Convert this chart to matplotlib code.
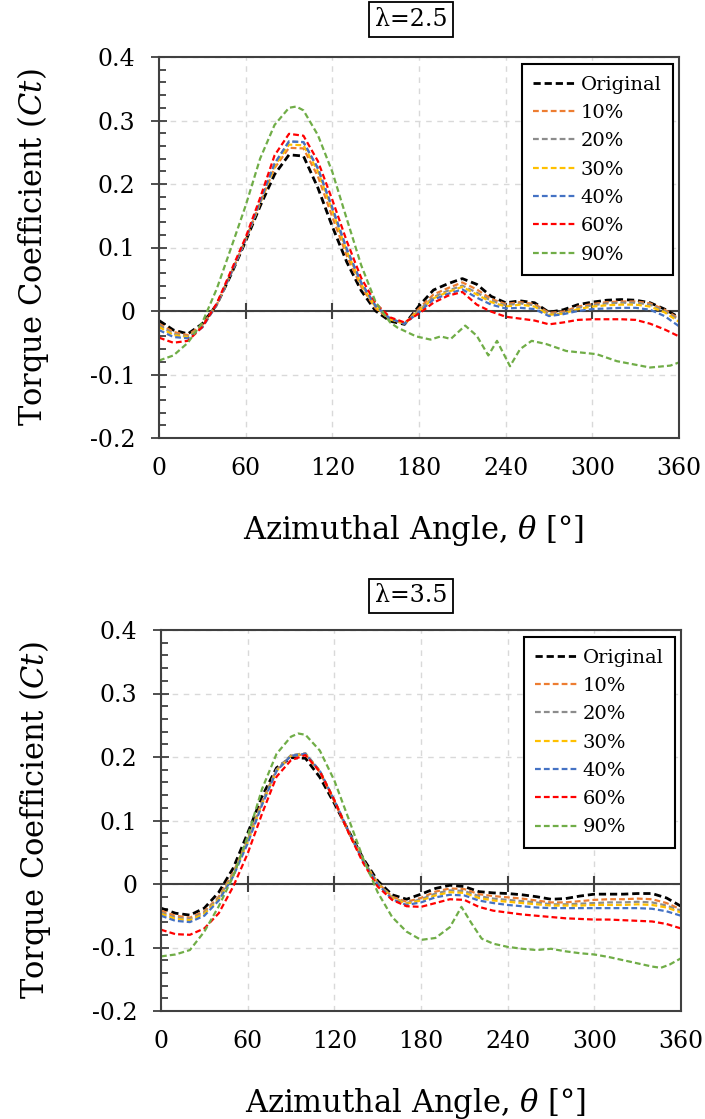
import numpy as np
import matplotlib
matplotlib.use("Agg")
import matplotlib.pyplot as plt
from matplotlib.ticker import MultipleLocator

plt.rcParams['font.family'] = ['DejaVu Serif']
plt.rcParams['mathtext.fontset'] = 'dejavuserif'

# sampled azimuthal angles (deg)
angles = list(range(0, 361, 10))

series_names = ['Original', '10%', '20%', '30%', '40%', '60%', '90%']
series_colors = ['#000000', '#ED7D31', '#8C8C8C', '#FFC000', '#4472C4', '#FF0000', '#70AD47']

x_ticks = [0, 60, 120, 180, 240, 300, 360]
y_ticks = [-0.2, -0.1, 0.0, 0.1, 0.2, 0.3, 0.4]
y_tick_labels = ['-0.2', '-0.1', '0', '0.1', '0.2', '0.3', '0.4']

# ---- lambda = 2.5 ----
orig_25 = [-0.015, -0.03, -0.036, -0.02, 0.01, 0.058, 0.11, 0.165, 0.215, 0.246, 0.244, 0.194,
           0.133, 0.077, 0.032, 0.0, -0.016, -0.021, 0.008, 0.033, 0.043, 0.051, 0.042, 0.023,
           0.013, 0.016, 0.013, -0.002, 0.002, 0.01, 0.014, 0.017, 0.018, 0.017, 0.013, 0.003, -0.01]
p10_25 = [-0.02, -0.033, -0.038, -0.022, 0.01, 0.06, 0.112, 0.17, 0.225, 0.257, 0.256, 0.212,
          0.148, 0.087, 0.038, 0.004, -0.013, -0.02, 0.004, 0.026, 0.036, 0.045, 0.034, 0.019,
          0.011, 0.014, 0.011, -0.003, -0.001, 0.007, 0.011, 0.014, 0.015, 0.015, 0.012, 0.002, -0.012]
p20_25 = [-0.022, -0.036, -0.04, -0.024, 0.01, 0.06, 0.113, 0.172, 0.232, 0.267, 0.266, 0.224,
          0.16, 0.095, 0.043, 0.007, -0.012, -0.02, 0.001, 0.022, 0.032, 0.04, 0.029, 0.016,
          0.009, 0.012, 0.009, -0.005, -0.003, 0.005, 0.009, 0.012, 0.013, 0.013, 0.01, 0.0, -0.014]
p30_25 = [-0.025, -0.038, -0.041, -0.025, 0.01, 0.06, 0.113, 0.17, 0.228, 0.262, 0.261, 0.22,
          0.158, 0.094, 0.042, 0.006, -0.013, -0.02, 0.0, 0.02, 0.03, 0.038, 0.026, 0.014,
          0.007, 0.01, 0.007, -0.006, -0.004, 0.003, 0.007, 0.009, 0.01, 0.01, 0.007, -0.002, -0.017]
p40_25 = [-0.03, -0.041, -0.043, -0.026, 0.01, 0.06, 0.113, 0.172, 0.232, 0.267, 0.266, 0.225,
          0.163, 0.098, 0.045, 0.008, -0.012, -0.02, -0.002, 0.018, 0.027, 0.034, 0.021, 0.01,
          0.004, 0.005, 0.003, -0.008, -0.005, 0.0, 0.003, 0.004, 0.005, 0.005, 0.002, -0.008, -0.024]
p60_25 = [-0.042, -0.05, -0.047, -0.025, 0.012, 0.064, 0.116, 0.178, 0.245, 0.279, 0.276, 0.236,
          0.175, 0.11, 0.052, 0.012, -0.01, -0.018, -0.004, 0.013, 0.024, 0.03, 0.01, -0.001,
          -0.009, -0.012, -0.015, -0.021, -0.018, -0.014, -0.013, -0.013, -0.013, -0.014, -0.02, -0.029, -0.04]
p90_25_ang = [0, 10, 20, 30, 40, 50, 60, 70, 80, 90, 95, 100, 110, 120, 130, 140, 150, 160, 165,
              178, 188, 195, 202, 212, 220, 228, 234, 243, 250, 258, 268, 282, 303, 317, 340, 354, 360]
p90_25 = [-0.078, -0.07, -0.05, -0.018, 0.035, 0.1, 0.166, 0.24, 0.293, 0.32, 0.322, 0.316,
          0.277, 0.219, 0.145, 0.072, 0.014, -0.018, -0.026, -0.04, -0.045, -0.04, -0.044, -0.023,
          -0.039, -0.07, -0.047, -0.087, -0.06, -0.047, -0.052, -0.063, -0.068, -0.079, -0.089, -0.086, -0.081]

# ---- lambda = 3.5 ----
orig_35 = [-0.038, -0.046, -0.049, -0.038, -0.013, 0.025, 0.08, 0.138, 0.183, 0.199, 0.198, 0.168,
           0.127, 0.083, 0.04, 0.005, -0.017, -0.024, -0.016, -0.007, -0.002, -0.004, -0.012, -0.014,
           -0.015, -0.017, -0.02, -0.024, -0.023, -0.019, -0.016, -0.016, -0.016, -0.015, -0.015, -0.022, -0.035]
p10_35 = [-0.042, -0.05, -0.053, -0.043, -0.02, 0.018, 0.07, 0.13, 0.18, 0.202, 0.204, 0.176,
          0.13, 0.08, 0.036, 0.002, -0.02, -0.028, -0.022, -0.012, -0.007, -0.008, -0.016, -0.019,
          -0.021, -0.023, -0.026, -0.029, -0.029, -0.027, -0.025, -0.024, -0.024, -0.023, -0.024, -0.03, -0.04]
p20_35 = [-0.045, -0.053, -0.055, -0.045, -0.022, 0.016, 0.068, 0.128, 0.18, 0.203, 0.206, 0.178,
          0.132, 0.082, 0.037, 0.002, -0.021, -0.03, -0.024, -0.015, -0.01, -0.011, -0.019, -0.023,
          -0.025, -0.027, -0.029, -0.032, -0.032, -0.031, -0.03, -0.029, -0.029, -0.028, -0.029, -0.034, -0.042]
p30_35 = [-0.047, -0.055, -0.057, -0.047, -0.024, 0.014, 0.066, 0.126, 0.178, 0.202, 0.205, 0.178,
          0.132, 0.082, 0.037, 0.001, -0.022, -0.031, -0.026, -0.018, -0.013, -0.014, -0.022, -0.026,
          -0.028, -0.03, -0.032, -0.034, -0.034, -0.034, -0.033, -0.033, -0.033, -0.032, -0.033, -0.037, -0.045]
p40_35 = [-0.05, -0.058, -0.06, -0.05, -0.026, 0.012, 0.064, 0.125, 0.178, 0.202, 0.205, 0.178,
          0.132, 0.082, 0.036, 0.0, -0.024, -0.033, -0.029, -0.021, -0.017, -0.018, -0.026, -0.03,
          -0.033, -0.035, -0.037, -0.038, -0.038, -0.038, -0.038, -0.038, -0.038, -0.038, -0.039, -0.043, -0.05]
p60_35 = [-0.072, -0.079, -0.08, -0.07, -0.046, -0.004, 0.048, 0.111, 0.169, 0.195, 0.203, 0.177,
          0.132, 0.08, 0.033, -0.004, -0.025, -0.035, -0.036, -0.03, -0.024, -0.025, -0.036, -0.042,
          -0.045, -0.048, -0.05, -0.052, -0.054, -0.055, -0.056, -0.056, -0.057, -0.058, -0.059, -0.063, -0.07]
p90_35_ang = [0, 10, 20, 30, 40, 50, 60, 70, 80, 90, 95, 100, 110, 120, 130, 140, 150, 160, 170,
              180, 190, 200, 208, 215, 222, 230, 240, 250, 260, 270, 280, 290, 300, 310, 320, 330,
              340, 346, 352, 360]
p90_35 = [-0.114, -0.111, -0.104, -0.075, -0.035, 0.012, 0.075, 0.15, 0.205, 0.232, 0.237, 0.235,
          0.21, 0.163, 0.102, 0.04, -0.013, -0.052, -0.075, -0.088, -0.085, -0.068, -0.036, -0.062,
          -0.086, -0.094, -0.099, -0.102, -0.104, -0.102, -0.106, -0.109, -0.111, -0.115, -0.12,
          -0.125, -0.13, -0.132, -0.127, -0.117]

DARK = '#404040'


def draw_panel(ax, ys, ang90, y90):
    for name, color, y in zip(series_names[:-1], series_colors[:-1], ys):
        lw = 2.0 if name == 'Original' else 1.6
        ax.plot(angles, y, color=color, lw=lw, linestyle=(0, (2.6, 1.4)), label=name)
    ax.plot(ang90, y90, color=series_colors[-1], lw=1.6, linestyle=(0, (2.6, 1.4)),
            label=series_names[-1])

    ax.set_xlim(0, 360)
    ax.set_ylim(-0.2, 0.4)
    ax.set_xticks(x_ticks)
    ax.set_xticklabels([str(t) for t in x_ticks])
    ax.set_yticks(y_ticks)
    ax.set_yticklabels(y_tick_labels)
    ax.yaxis.set_minor_locator(MultipleLocator(0.02))
    ax.tick_params(axis='x', length=0, pad=14, labelsize=17)
    ax.tick_params(axis='y', which='major', direction='inout', length=12, width=1.3,
                   color=DARK, pad=11, labelsize=17)
    ax.tick_params(axis='y', which='minor', direction='in', length=5, width=1.3, color=DARK)
    ax.grid(True, which='major', color='#d9d9d9', linestyle=(0, (4, 4)), linewidth=1)
    ax.set_axisbelow(True)
    ax.axhline(0, color=DARK, lw=1.5, zorder=1.5)
    ax.vlines(x_ticks[1:-1], -0.013, 0.013, color=DARK, lw=1.5, zorder=1.5)
    for s in ax.spines.values():
        s.set_color(DARK)
        s.set_linewidth(1.5)

    ax.set_xlabel(r'Azimuthal Angle, $\theta$ [°]', fontsize=22)
    ax.xaxis.set_label_coords(0.49, -0.197)
    ax.xaxis.label.set_va('top')
    ax.set_ylabel(r'Torque Coefficient $(Ct)$', fontsize=22)
    ax.yaxis.set_label_coords(-0.208, 0.5)

    leg = ax.legend(loc='upper right', bbox_to_anchor=(1 - 6 / 520, 1 - 7 / 381),
                    borderaxespad=0, fancybox=False, edgecolor='black', framealpha=1,
                    fontsize=14, handlelength=2.15, handletextpad=0.28, labelspacing=0.53,
                    borderpad=0.6)
    leg.get_frame().set_linewidth(1.5)


fig = plt.figure(figsize=(7.05, 11.19), dpi=100)
ax1 = fig.add_axes([159 / 705, 1 - 438 / 1119, 520 / 705, 381 / 1119])
ax2 = fig.add_axes([161 / 705, 1 - 1011 / 1119, 520 / 705, 381 / 1119])

draw_panel(ax1, [orig_25, p10_25, p20_25, p30_25, p40_25, p60_25], p90_25_ang, p90_25)
draw_panel(ax2, [orig_35, p10_35, p20_35, p30_35, p40_35, p60_35], p90_35_ang, p90_35)

box = dict(boxstyle='square,pad=0.25', fc='white', ec='black', lw=1.3)
fig.text(411 / 705, 1 - 19.5 / 1119, 'λ=2.5', ha='center', va='center', fontsize=17, bbox=box)
fig.text(411 / 705, 1 - 596 / 1119, 'λ=3.5', ha='center', va='center', fontsize=17, bbox=box)

fig.savefig('out.png', dpi=100)
